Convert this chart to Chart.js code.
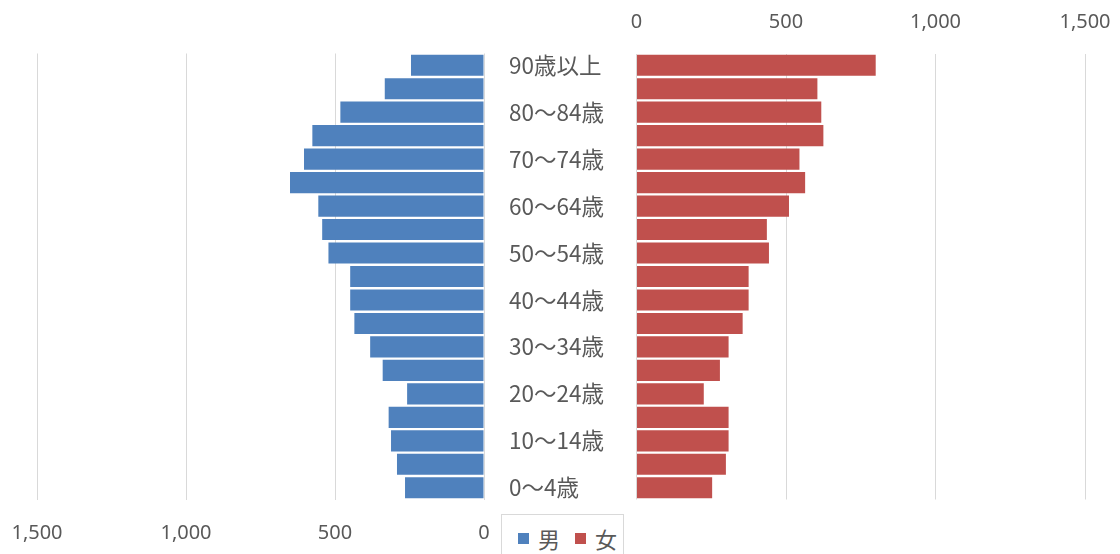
<!DOCTYPE html>
<html lang="ja">
<head>
<meta charset="utf-8">
<script src="https://cdn.jsdelivr.net/npm/chart.js@4.4.1/dist/chart.umd.min.js"></script>
<style>
  html, body { margin: 0; padding: 0; background: #fff; overflow: hidden; }
  #wrap { position: relative; width: 1120px; height: 554px; }
  #male { position: absolute; left: 0; top: 0; }
  #female { position: absolute; left: 484px; top: 0; }
  #legend {
    position: absolute; left: 501px; top: 514px; width: 123px; height: 50px;
    border: 1px solid #d9d9d9; box-sizing: border-box; background: #fff;
    font: 22px "Noto Sans CJK JP", sans-serif; color: #595959;
    display: flex; align-items: flex-start; padding: 10px 0 0 16px;
  }
  #legend span.item { display: flex; align-items: center; margin-right: 15px; line-height: 26px; }
  #legend i { display: inline-block; width: 11px; height: 11px; margin-right: 9px; }
</style>
</head>
<body>
<div id="wrap">
  <canvas id="male" width="500" height="554"></canvas>
  <canvas id="female" width="636" height="554"></canvas>
  <div id="legend"></div>
</div>
<script>
// age groups, youngest first (drawn bottom to top)
const ageGroups = [
  '0〜4歳', '5〜9歳', '10〜14歳', '15〜19歳', '20〜24歳', '25〜29歳',
  '30〜34歳', '35〜39歳', '40〜44歳', '45〜49歳', '50〜54歳', '55〜59歳',
  '60〜64歳', '65〜69歳', '70〜74歳', '75〜79歳', '80〜84歳', '85〜89歳', '90歳以上'
];
const maleCounts = [265, 292, 312, 320, 258, 340, 382, 435, 449, 449, 522, 543, 556, 651, 604, 576, 482, 333, 245];
const femaleCounts = [253, 299, 308, 308, 225, 279, 308, 355, 375, 375, 443, 436, 510, 564, 545, 625, 618, 605, 800];
const axisTicks = [0, 500, 1000, 1500];

const maleColor = '#4F81BD';
const femaleColor = '#C0504D';
const textColor = '#595959';
const gridColor = '#d9d9d9';
const tickFont = { family: '"Noto Sans", sans-serif', size: 20 };
const labelFont = { family: '"Noto Sans CJK JP", sans-serif', size: 22.5 };

function valueAxis(position, reverse) {
  return {
    type: 'linear',
    position,
    reverse,
    min: axisTicks[0],
    max: axisTicks[axisTicks.length - 1],
    afterBuildTicks: s => { s.ticks = axisTicks.map(v => ({ value: v })); },
    ticks: {
      color: textColor,
      font: tickFont,
      padding: position === 'top' ? 19 : 22,
      callback: v => v.toLocaleString('en-US')
    },
    grid: { color: gridColor, lineWidth: 1, drawTicks: false },
    border: { display: false },
    // plot edges come from layout.padding only
    afterFit: s => {
      s.height = position === 'top' ? 53.5 : 54.5;
      s.paddingLeft = 0;
      s.paddingRight = 0;
    }
  };
}

const barOpts = { barPercentage: 0.9, categoryPercentage: 1.0, borderWidth: 0 };

new Chart(document.getElementById('male'), {
  type: 'bar',
  data: {
    labels: ageGroups,
    datasets: [{ label: '男', data: maleCounts, backgroundColor: maleColor, ...barOpts }]
  },
  options: {
    indexAxis: 'y',
    responsive: false,
    animation: false,
    layout: { padding: { left: 37, right: 16, top: 53.5, bottom: 0 } },
    plugins: { legend: { display: false }, tooltip: { enabled: false } },
    scales: {
      x: valueAxis('bottom', true),
      y: { reverse: true, display: false }
    }
  }
});

new Chart(document.getElementById('female'), {
  type: 'bar',
  data: {
    labels: ageGroups,
    datasets: [{ label: '女', data: femaleCounts, backgroundColor: femaleColor, ...barOpts }]
  },
  options: {
    indexAxis: 'y',
    responsive: false,
    animation: false,
    layout: { padding: { left: 25, right: 35, top: 0, bottom: 54.5 } },
    plugins: { legend: { display: false }, tooltip: { enabled: false } },
    scales: {
      x: valueAxis('top', false),
      y: {
        reverse: true,
        position: 'left',
        grid: { display: false, drawTicks: false },
        border: { display: false },
        ticks: {
          autoSkip: false,
          crossAlign: 'far',
          padding: 0,
          color: textColor,
          font: labelFont,
          callback: function (v, i) { return i % 2 === 0 ? this.getLabelForValue(v) : ''; }
        },
        afterFit: s => { s.width = 127.5; }
      }
    }
  }
});

// legend with both series
const legend = document.getElementById('legend');
[['男', maleColor], ['女', femaleColor]].forEach(([name, color]) => {
  const item = document.createElement('span');
  item.className = 'item';
  const swatch = document.createElement('i');
  swatch.style.background = color;
  item.appendChild(swatch);
  item.appendChild(document.createTextNode(name));
  legend.appendChild(item);
});
</script>
</body>
</html>
